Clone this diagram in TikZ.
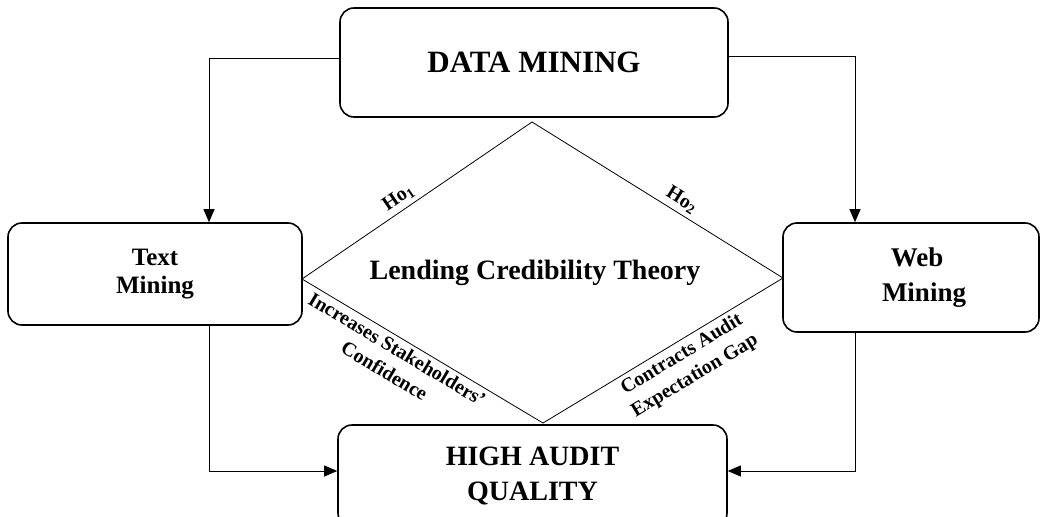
\documentclass[tikz,border=0pt]{standalone}
\usepackage{fontspec}
\setmainfont{Liberation Serif}
\usetikzlibrary{arrows.meta}

\begin{document}
\begin{tikzpicture}[x=1pt, y=-1pt, line width=0.8pt,
    box/.style={rectangle, rounded corners=14pt, draw, line width=1.6pt, align=center, inner sep=0pt},
    link/.style={-{Triangle[length=13pt, width=11pt]}},
    tag/.style={sloped, font=\bfseries\fontsize{20}{25}\selectfont, align=center, inner sep=4pt}]

    \useasboundingbox (0,0) rectangle (1040,516);

    \node[box, minimum width=388pt, minimum height=109pt, font=\bfseries\fontsize{31}{36}\selectfont] (DM) at (534,62.5) {DATA MINING};
    \node[box, minimum width=294pt, minimum height=102pt, font=\bfseries\fontsize{25}{28}\selectfont] (TM) at (155,274) {Text\\Mining};
    \node[box, minimum width=256pt, minimum height=109pt, font=\bfseries\fontsize{27}{35}\selectfont] (WM) at (911,277.5) {\hspace*{12pt}Web\\\hspace*{26pt}Mining};
    \node[box, minimum width=389pt, minimum height=102pt, font=\bfseries\fontsize{28}{35}\selectfont] (HAQ) at (532.5,476) {HIGH AUDIT\\QUALITY};

    \node[font=\bfseries\fontsize{28}{34}\selectfont, anchor=base] (LCT) at (535,279) {Lending Credibility Theory};

    % diamond corners
    \coordinate (dTop) at (532,122);
    \coordinate (dLeft) at (302,279);
    \coordinate (dRight) at (783,278);
    \coordinate (dBottom) at (543,423);

    \draw (dLeft) -- node[tag, above, pos=0.45] {Ho\textsubscript{1}} (dTop);
    \draw (dTop) -- node[tag, above, pos=0.57] {Ho\textsubscript{2}} (dRight);
    \draw (dLeft) -- node[tag, below, pos=0.42] {Increases Stakeholders'\\Confidence} (dBottom);
    \draw (dBottom) -- node[tag, below, pos=0.55] {Contracts Audit\\Expectation Gap} (dRight);

    \draw[link] ([yshift=4.5pt]DM.west) -| ([xshift=54pt]TM.north);
    \draw[link] ([yshift=6.5pt]DM.east) -| ([xshift=-56pt]WM.north);
    \draw[link] ([xshift=54pt]TM.south) |- ([yshift=5pt]HAQ.west);
    \draw[link] ([xshift=-56pt]WM.south) |- ([yshift=5pt]HAQ.east);

\end{tikzpicture}
\end{document}
